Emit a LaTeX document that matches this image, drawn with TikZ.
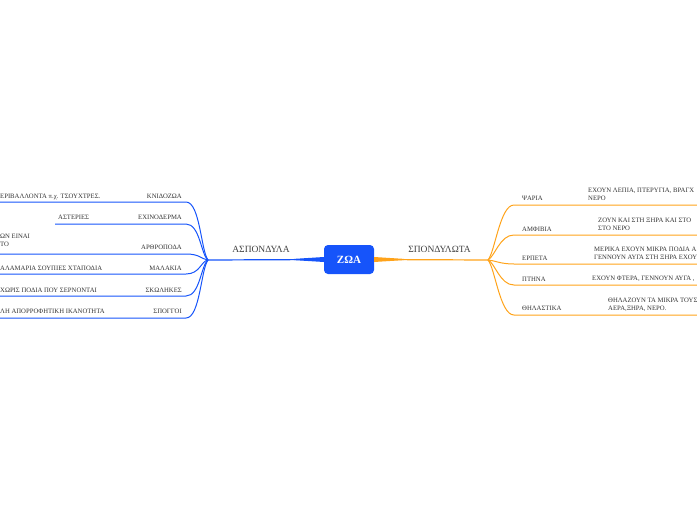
\documentclass[tikz,border=0pt]{standalone}
\usepackage{fontspec}
\setmainfont{Liberation Serif}
\usetikzlibrary{positioning, calc}
\definecolor{zoablue}{RGB}{22,84,250}
\definecolor{zoaorange}{RGB}{255,163,26}

\begin{document}
\begin{tikzpicture}[
    x=1pt, y=-1pt,
    root/.style={rectangle, rounded corners=4pt, fill=zoablue, text=white, minimum width=50pt, minimum height=29pt, inner sep=0pt, font=\fontsize{11}{13}\selectfont\bfseries},
    mainlabel/.style={inner sep=0pt, text=black!75, font=\fontsize{9.5}{11}\selectfont},
    sublabel/.style={inner sep=0pt, text=black!80, font=\fontsize{6.7}{8}\selectfont},
    leaf/.style={inner sep=0pt, text=black!80, align=left, font=\fontsize{6.7}{8.3}\selectfont},
    bline/.style={draw=zoablue, line width=1pt},
    oline/.style={draw=zoaorange, line width=1pt}
]
    \useasboundingbox (0,0) rectangle (697,520);
    \clip (0,0) rectangle (697,520);

    % centre
    \node[root] (zoa) at (349,259.5) {ΖΩΑ};
    \coordinate (lhub) at (208,260);
    \coordinate (rhub) at (488,260);

    \node[mainlabel, anchor=base] (asp) at (261,252) {ΑΣΠΟΝΔΥΛΑ};
    \node[mainlabel, anchor=base] (spo) at (439.5,252) {ΣΠΟΝΔΥΛΩΤΑ};

    \fill[zoablue] ($(zoa.west)+(0,-2.5)$) -- ($(zoa.west)+(-30,-0.6)$) -- ($(zoa.west)+(-30,0.6)$) -- ($(zoa.west)+(0,2.5)$) -- cycle;
    \draw[bline, line width=1.2pt] (zoa.west) -- (lhub);
    \fill[zoaorange] ($(zoa.east)+(0,-2.5)$) -- ($(zoa.east)+(30,-0.6)$) -- ($(zoa.east)+(30,0.6)$) -- ($(zoa.east)+(0,2.5)$) -- cycle;
    \draw[oline, line width=1.2pt] (zoa.east) -- (rhub);

    % aspondyla
    \node[sublabel, anchor=base east] (knid) at (182,198.5) {ΚΝΙΔΟΖΩΑ};
    \node[sublabel, anchor=base east] (echin) at (182,219.5) {ΕΧΙΝΟΔΕΡΜΑ};
    \node[sublabel, anchor=base east] (arthr) at (182,249.5) {ΑΡΘΡΟΠΟΔΑ};
    \node[sublabel, anchor=base east] (malak) at (182,270) {ΜΑΛΑΚΙΑ};
    \node[sublabel, anchor=base east] (skol) at (182,292) {ΣΚΩΛΗΚΕΣ};
    \node[sublabel, anchor=base east] (spong) at (182,313.5) {ΣΠΟΓΓΟΙ};

    \node[leaf, anchor=base west] (knid-l) at (0,198.5) {ΕΡΙΒΑΛΛΟΝΤΑ π.χ. ΤΣΟΥΧΤΡΕΣ.};
    \node[leaf, anchor=base west] (aster) at (58,219.5) {ΑΣΤΕΡΙΕΣ};
    \node[leaf, anchor=base west] (arthr-l) at (0,246.5) {ΩΝ ΕΙΝΑΙ\\ΤΟ};
    \node[leaf, anchor=base west] (malak-l) at (0,270) {ΑΛΑΜΑΡΙΑ ΣΟΥΠΙΕΣ ΧΤΑΠΟΔΙΑ};
    \node[leaf, anchor=base west] (skol-l) at (0,292) {ΧΩΡΙΣ ΠΟΔΙΑ ΠΟΥ ΣΕΡΝΟΝΤΑΙ};
    \node[leaf, anchor=base west] (spong-l) at (0,313.5) {ΛΗ ΑΠΟΡΡΟΦΗΤΙΚΗ ΙΚΑΝΟΤΗΤΑ};

    \coordinate (knid-e) at (186,202);   \coordinate (knid-w) at (-2,202);
    \coordinate (echin-e) at (186,224);  \coordinate (echin-w) at (55,224);
    \coordinate (arthr-e) at (186,254);  \coordinate (arthr-w) at (-2,254);
    \coordinate (malak-e) at (186,274);  \coordinate (malak-w) at (-2,274);
    \coordinate (skol-e) at (186,296);   \coordinate (skol-w) at (-2,296);
    \coordinate (spong-e) at (186,318);  \coordinate (spong-w) at (-2,318);

    \draw[bline] (lhub) .. controls (201,251) and (200,202) .. (knid-e) -- (knid-w);
    \draw[bline] (lhub) .. controls (201,255) and (200,224) .. (echin-e) -- (echin-w);
    \draw[bline] (lhub) .. controls (201,259) and (200,254) .. (arthr-e) -- (arthr-w);
    \draw[bline] (lhub) .. controls (201,261) and (200,274) .. (malak-e) -- (malak-w);
    \draw[bline] (lhub) .. controls (201,265) and (200,296) .. (skol-e) -- (skol-w);
    \draw[bline] (lhub) .. controls (201,269) and (200,318) .. (spong-e) -- (spong-w);

    % spondylota
    \node[sublabel, anchor=base west] (psar) at (522,200.5) {ΨΑΡΙΑ};
    \node[sublabel, anchor=base west] (amfib) at (522,231) {ΑΜΦΙΒΙΑ};
    \node[sublabel, anchor=base west] (erpet) at (522,260) {ΕΡΠΕΤΑ};
    \node[sublabel, anchor=base west] (ptin) at (522,281) {ΠΤΗΝΑ};
    \node[sublabel, anchor=base west] (thil) at (522,310) {ΘΗΛΑΣΤΙΚΑ};

    \node[leaf, anchor=base west] (psar-l) at (588,200.5) {ΕΧΟΥΝ ΛΕΠΙΑ, ΠΤΕΡΥΓΙΑ, ΒΡΑΓΧ\\ΝΕΡΟ};
    \node[leaf, anchor=base west] (amfib-l) at (598,230.5) {ΖΟΥΝ ΚΑΙ ΣΤΗ ΞΗΡΑ ΚΑΙ ΣΤΟ\\ΣΤΟ ΝΕΡΟ};
    \node[leaf, anchor=base west] (erpet-l) at (594,259.5) {ΜΕΡΙΚΑ ΕΧΟΥΝ ΜΙΚΡΑ ΠΟΔΙΑ Α\\ΓΕΝΝΟΥΝ ΑΥΓΑ ΣΤΗ ΞΗΡΑ ΕΧΟΥ};
    \node[leaf, anchor=base west] (ptin-l) at (592,280.5) {ΕΧΟΥΝ ΦΤΕΡΑ, ΓΕΝΝΟΥΝ ΑΥΓΑ ,};
    \node[leaf, anchor=base west] (thil-l) at (608,310.5) {ΘΗΛΑΖΟΥΝ ΤΑ ΜΙΚΡΑ ΤΟΥΣ\\ΑΕΡΑ,ΞΗΡΑ, ΝΕΡΟ.};

    \coordinate (psar-w) at (514,205);   \coordinate (psar-e) at (700,205);
    \coordinate (amfib-w) at (514,235);  \coordinate (amfib-e) at (700,235);
    \coordinate (erpet-w) at (514,264);  \coordinate (erpet-e) at (700,264);
    \coordinate (ptin-w) at (514,285);   \coordinate (ptin-e) at (700,285);
    \coordinate (thil-w) at (514,315);   \coordinate (thil-e) at (700,315);

    \draw[oline] (rhub) .. controls (495,252) and (500,205) .. (psar-w) -- (psar-e);
    \draw[oline] (rhub) .. controls (495,256) and (500,235) .. (amfib-w) -- (amfib-e);
    \draw[oline] (rhub) .. controls (495,260.5) and (500,264) .. (erpet-w) -- (erpet-e);
    \draw[oline] (rhub) .. controls (495,263) and (500,285) .. (ptin-w) -- (ptin-e);
    \draw[oline] (rhub) .. controls (495,268) and (500,315) .. (thil-w) -- (thil-e);

\end{tikzpicture}
\end{document}
